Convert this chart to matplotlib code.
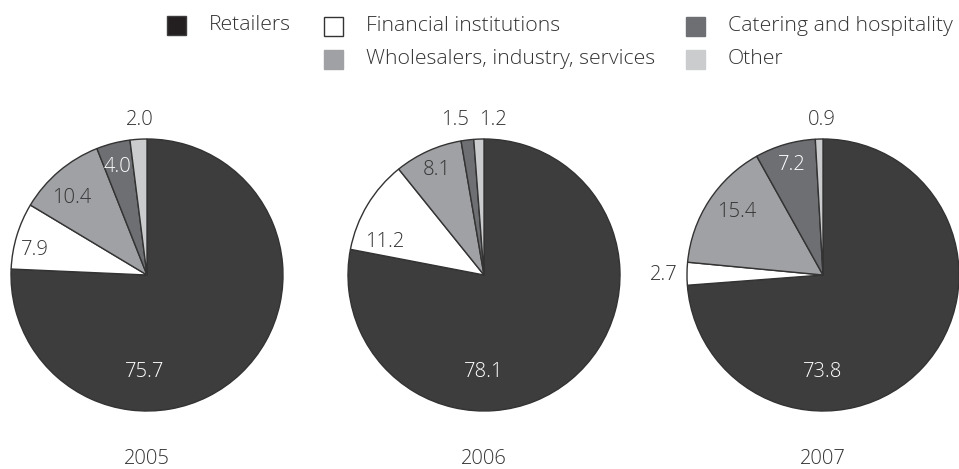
import matplotlib
matplotlib.use("Agg")
import matplotlib.pyplot as plt
from matplotlib.patches import Rectangle

# data (shares in %)
categories = ["Retailers", "Financial institutions", "Wholesalers, industry, services",
              "Catering and hospitality", "Other"]
years = ["2005", "2006", "2007"]
shares_2005 = [75.7, 7.9, 10.4, 4.0, 2.0]
shares_2006 = [78.1, 11.2, 8.1, 1.5, 1.2]
shares_2007 = [73.8, 2.7, 15.4, 7.2, 0.9]

colors = ["#3d3d3d", "#ffffff", "#a0a1a4", "#6e6f73", "#cbcccd"]

# label offsets from the pie centre (pixels), placed like the original
label_offsets = [
    [(-2, -97), (-112, 25), (-75, 77), (-29, 108), (-7, 155)],
    [(0, -97), (-99, 33), (-47, 105), (-29, 155), (9, 155)],
    [(0, -97), (-159, 0), (-86, 63), (-31, 110), (-1, 155)],
]
dark, light = "#333333", "white"
label_colors = [
    [light, dark, dark, light, dark],
    [light, dark, dark, dark, dark],
    [light, dark, dark, light, dark],
]

plt.rcParams["font.family"] = ["Open Sans", "DejaVu Sans"]

W, H = 959, 469
fig = plt.figure(figsize=(W / 100, H / 100), dpi=100)
ax = fig.add_axes([0, 0, 1, 1])

centers_x = [147, 484, 823]
center_y = H - 275
radius = 136

for i, shares in enumerate([shares_2005, shares_2006, shares_2007]):
    cx = centers_x[i]
    ax.pie(shares, colors=colors, startangle=90, counterclock=False,
           center=(cx, center_y), radius=radius,
           wedgeprops=dict(edgecolor="#333333", linewidth=1.0))
    for j, v in enumerate(shares):
        dx, dy = label_offsets[i][j]
        ax.text(cx + dx, center_y + dy, f"{v:.1f}", ha="center", va="center",
                fontsize=14.5, color=label_colors[i][j], fontweight="light")
    ax.text(cx, H - 459, years[i], ha="center", va="center", fontsize=14.5,
            color="#333333", fontweight="light")

# legend laid out by hand: (square centre x, y, text x)
legend_pos = [(176, 25, 209), (333, 26, 366), (333, 59, 366), (695, 26, 728), (695, 59, 728)]
sq = 19
for j, name in enumerate(categories):
    sx, sy, tx = legend_pos[j]
    ec = "#333333" if colors[j] == "#ffffff" else colors[j]
    fc = "#231f20" if j == 0 else colors[j]
    ax.add_patch(Rectangle((sx - sq / 2, H - sy - sq / 2), sq, sq, facecolor=fc,
                           edgecolor=ec, linewidth=1.0))
    ax.text(tx, H - sy, name, ha="left", va="center", fontsize=15.3, color="#333333",
            fontweight="light")

ax.set_xlim(0, W)
ax.set_ylim(0, H)
ax.set_aspect("equal")
ax.axis("off")

fig.savefig("out.png", dpi=100)
